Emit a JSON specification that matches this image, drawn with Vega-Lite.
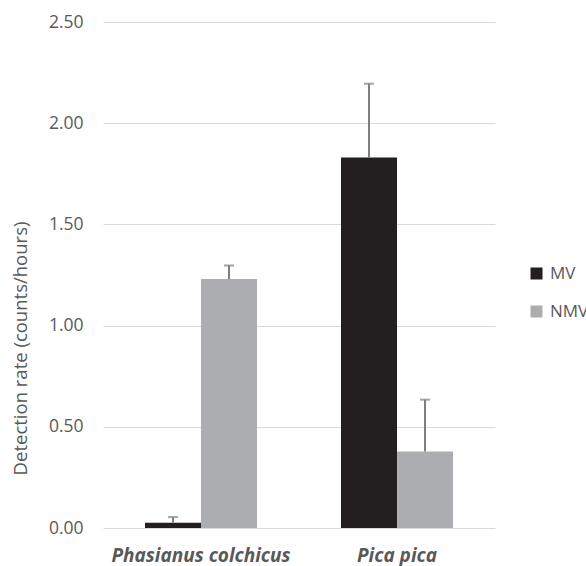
{
  "$schema": "https://vega.github.io/schema/vega-lite/v6.json",
  "width": 392,
  "height": 506,
  "autosize": {"type": "none"},
  "padding": {"left": 103, "top": 22, "right": 91, "bottom": 38},
  "background": "white",
  "config": {
    "view": {"stroke": null},
    "font": "Open Sans"
  },
  "data": {
    "values": [
      {"species": "Phasianus colchicus", "group": "MV", "rate": 0.026, "upper": 0.054},
      {"species": "Phasianus colchicus", "group": "NMV", "rate": 1.23, "upper": 1.297},
      {"species": "Pica pica", "group": "MV", "rate": 1.83, "upper": 2.195},
      {"species": "Pica pica", "group": "NMV", "rate": 0.378, "upper": 0.634}
    ]
  },
  "encoding": {
    "x": {
      "field": "species",
      "type": "nominal",
      "sort": ["Phasianus colchicus", "Pica pica"],
      "scale": {"paddingInner": 0.4286, "paddingOuter": 0.2143},
      "axis": {
        "title": null,
        "labelAngle": 0,
        "domain": false,
        "ticks": false,
        "labelFont": "Open Sans",
        "labelFontSize": 19,
        "labelFontWeight": "bold",
        "labelFontStyle": "italic",
        "labelColor": "#595959",
        "labelPadding": 18
      }
    },
    "xOffset": {
      "field": "group",
      "type": "nominal",
      "sort": ["MV", "NMV"],
      "scale": {"paddingInner": 0, "paddingOuter": 0}
    }
  },
  "layer": [
    {
      "mark": {"type": "bar"},
      "encoding": {
        "y": {
          "field": "rate",
          "type": "quantitative",
          "scale": {"domain": [0, 2.5], "nice": false},
          "axis": {
            "title": "Detection rate (counts/hours)",
            "titleFont": "Open Sans",
            "titleFontSize": 18.5,
            "titleFontWeight": "normal",
            "titleColor": "#595959",
            "titlePadding": 18,
            "titleY": 326,
            "values": [0, 0.5, 1, 1.5, 2, 2.5],
            "format": ".2f",
            "domain": false,
            "ticks": false,
            "labelFont": "Open Sans",
            "labelFontSize": 17.5,
            "labelColor": "#595959",
            "labelPadding": 20,
            "gridColor": "#d9d9d9",
            "gridWidth": 1
          }
        },
        "color": {
          "field": "group",
          "type": "nominal",
          "scale": {"domain": ["MV", "NMV"], "range": ["#231f20", "#acadb0"]},
          "legend": {
            "title": null,
            "orient": "none",
            "legendX": 425,
            "legendY": 243,
            "symbolType": "square",
            "symbolSize": 144,
            "symbolStrokeWidth": 0,
            "labelFont": "Open Sans",
            "labelFontSize": 17,
            "labelColor": "#595959",
            "rowPadding": 20,
            "labelOffset": 5
          }
        }
      }
    },
    {
      "mark": {"type": "rule", "color": "#7f7f7f", "strokeWidth": 2},
      "encoding": {
        "y": {"field": "rate", "type": "quantitative"},
        "y2": {"field": "upper"}
      }
    },
    {
      "mark": {"type": "tick", "color": "#7f7f7f", "thickness": 2, "size": 10, "orient": "horizontal"},
      "encoding": {
        "y": {"field": "upper", "type": "quantitative"}
      }
    }
  ]
}
